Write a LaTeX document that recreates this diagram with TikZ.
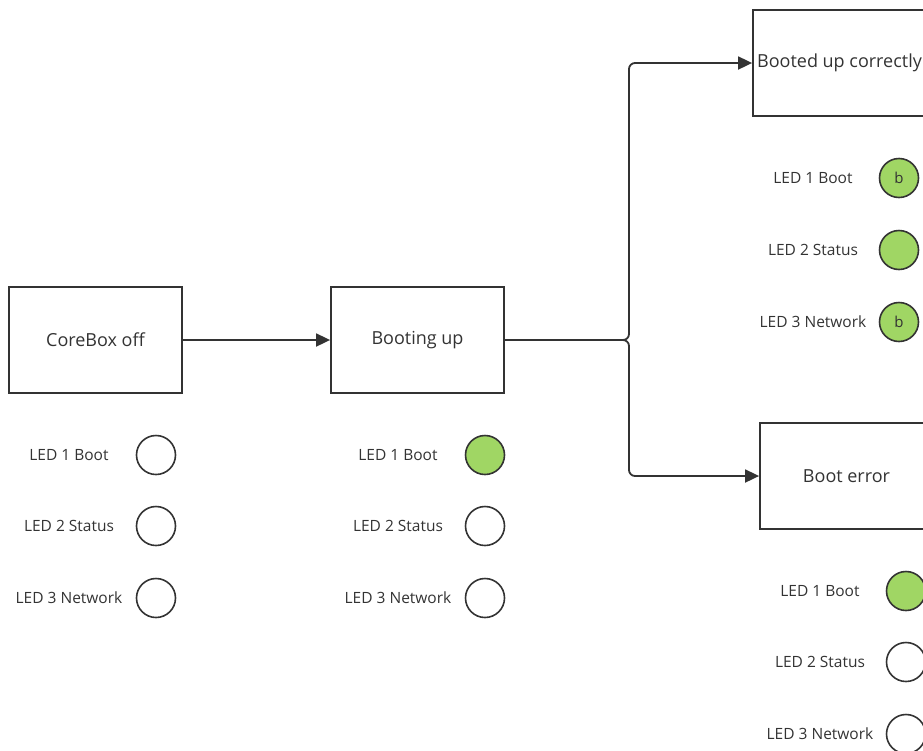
\documentclass[tikz,border=0pt]{standalone}
\usepackage{fontspec}
\setmainfont{Open Sans}
\usetikzlibrary{arrows.meta}
\definecolor{ink}{HTML}{333333}
\definecolor{ledgreen}{HTML}{A0D664}
\tikzset{
  statebox/.style={draw=ink, line width=1.8pt, minimum width=173pt, minimum height=106pt, inner sep=0pt, text=ink, font=\fontsize{18}{21}\selectfont},
  led/.style={circle, draw=ink, line width=1.6pt, minimum size=39pt, inner sep=0pt, text=ink, font=\fontsize{15}{18}\selectfont},
  ledon/.style={led, fill=ledgreen},
  ledlabel/.style={text=ink, font=\fontsize{15.5}{18}\selectfont, inner sep=0pt},
  arr/.style={draw=ink, line width=1.8pt, -{Triangle[length=14pt,width=13pt]}}
}
\begin{document}
\begin{tikzpicture}[x=1pt,y=-1pt]
\useasboundingbox (0,0) rectangle (923,750);
% states
\node[statebox] (off) at (95.5,340) {CoreBox off};
\node[statebox] (boot) at (417.5,340) {Booting up};
\node[statebox] (ok) at (839.5,63) {Booted up correctly};
\node[statebox] (err) at (846.5,476) {Boot error};
% column 1
\node[ledlabel] (l11) at (69,455) {LED 1 Boot};
\node[ledlabel] (l12) at (69,526) {LED 2 Status};
\node[ledlabel] (l13) at (69,598) {LED 3 Network};
\node[led] (c11) at (156,455) {};
\node[led] (c12) at (156,526) {};
\node[led] (c13) at (156,598) {};
% column 2
\node[ledlabel] (l21) at (398,455) {LED 1 Boot};
\node[ledlabel] (l22) at (398,526) {LED 2 Status};
\node[ledlabel] (l23) at (398,598) {LED 3 Network};
\node[ledon] (c21) at (485,455) {};
\node[led] (c22) at (485,526) {};
\node[led] (c23) at (485,598) {};
% column 3
\node[ledlabel] (l31) at (813,178) {LED 1 Boot};
\node[ledlabel] (l32) at (813,250) {LED 2 Status};
\node[ledlabel] (l33) at (813,322) {LED 3 Network};
\node[ledon] (c31) at (899,178) {b};
\node[ledon] (c32) at (899,250) {};
\node[ledon] (c33) at (899,322) {b};
% column 4
\node[ledlabel] (l41) at (820,591) {LED 1 Boot};
\node[ledlabel] (l42) at (820,662) {LED 2 Status};
\node[ledlabel] (l43) at (820,734) {LED 3 Network};
\node[ledon] (c41) at (906,591) {};
\node[led] (c42) at (906,662) {};
\node[led] (c43) at (906,734) {};
% connectors
\coordinate (j) at (629,340);
\draw[arr] (off.east) -- (boot.west);
\draw[arr, rounded corners=6pt] (boot.east) -- (j) |- (ok.west);
\draw[arr, rounded corners=6pt] (boot.east) -- (j) |- (err.west);
\end{tikzpicture}
\end{document}
